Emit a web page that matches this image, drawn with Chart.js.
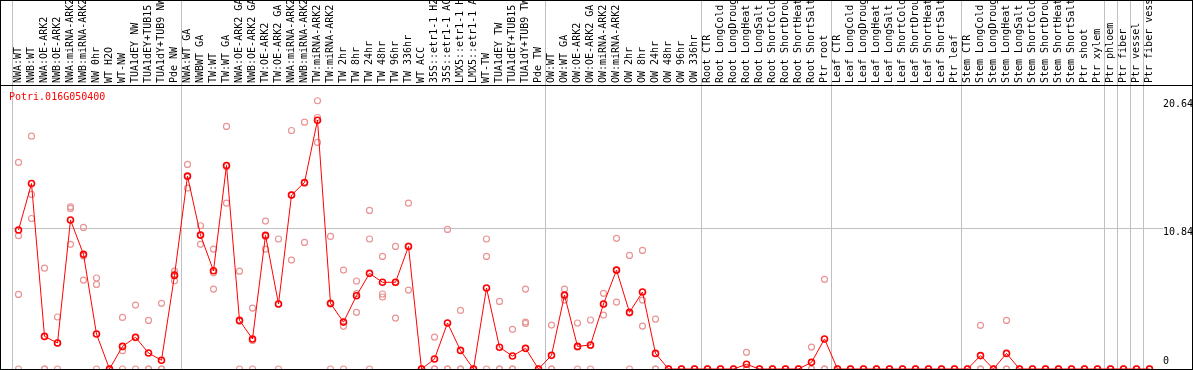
<!DOCTYPE html>
<html>
<head>
<meta charset="utf-8">
<title>Potri.016G050400</title>
<script src="https://cdn.jsdelivr.net/npm/chart.js@4/dist/chart.umd.min.js"></script>
<style>
  html, body { margin: 0; padding: 0; background: #fff; }
</style>
</head>
<body>
<canvas id="grafica" width="1194" height="370"></canvas>
<script>
// Muestras (eje X, etiquetas verticales arriba)
const muestras = [
    'NWA:WT', 'NWB:WT', 'NWA:OE-ARK2', 'NWB:OE-ARK2', 'NWA:miRNA-ARK2', 'NWB:miRNA-ARK2',
    'NW 0hr', 'WT H2O', 'WT-NW', 'TUA1dEY NW', 'TUA1dEY+TUB15', 'TUA1dY+TUB9 NW', 'Pde NW',
    'NWA:WT GA', 'NWBWT GA', 'TW:WT', 'TW:WT GA', 'NWA:OE-ARK2 GA', 'NWB:OE-ARK2 GA',
    'TW:OE-ARK2', 'TW:OE-ARK2 GA', 'NWA:miRNA-ARK2', 'NWB:miRNA-ARK2', 'TW:miRNA-ARK2',
    'TW:miRNA-ARK2', 'TW 2hr', 'TW 8hr', 'TW 24hr', 'TW 48hr', 'TW 96hr', 'TW 336hr',
    'WT ACC', '35S::etr1-1 H2O', '35S::etr1-1 ACC', 'LMX5::etr1-1 H2O', 'LMX5::etr1-1 ACC',
    'WT-TW', 'TUA1dEY TW', 'TUA1dEY+TUB15', 'TUA1dY+TUB9 TW', 'Pde TW',
    'OW:WT', 'OW:WT GA', 'OW:OE-ARK2', 'OW:OE-ARK2 GA', 'OW:miRNA-ARK2', 'OW:miRNA-ARK2',
    'OW 2hr', 'OW 8hr', 'OW 24hr', 'OW 48hr', 'OW 96hr', 'OW 336hr',
    'Root CTR', 'Root LongCold', 'Root LongDrought', 'Root LongHeat', 'Root LongSalt',
    'Root ShortCold', 'Root ShortDrought', 'Root ShortHeat', 'Root ShortSalt', 'Ptr root',
    'Leaf CTR', 'Leaf LongCold', 'Leaf LongDrought', 'Leaf LongHeat', 'Leaf LongSalt',
    'Leaf ShortCold', 'Leaf ShortDrought', 'Leaf ShortHeat', 'Leaf ShortSalt', 'Ptr leaf',
    'Stem CTR', 'Stem LongCold', 'Stem LongDrought', 'Stem LongHeat', 'Stem LongSalt',
    'Stem ShortCold', 'Stem ShortDrought', 'Stem ShortHeat', 'Stem ShortSalt', 'Ptr shoot',
    'Ptr xylem', 'Ptr phloem', 'Ptr fiber', 'Ptr vessel', 'Ptr fiber vessel'
];

// Promedio por muestra (línea roja)
const promedio = [
    10.69, 14.27, 2.51, 2.00, 11.46, 8.82, 2.69, 0, 1.74, 2.44, 1.23, 0.67, 7.20,
    14.84, 10.30, 7.56, 15.66, 3.74, 2.31, 10.28, 5.00, 13.38, 14.35, 19.14, 5.05,
    3.61, 5.64, 7.36, 6.67, 6.67, 9.43, 0, 0.77, 3.54, 1.43, 0, 6.23, 1.67, 1.00, 1.59, 0,
    1.05, 5.69, 1.74, 1.85, 5.00, 7.61, 4.36, 5.92, 1.20, 0, 0, 0,
    0, 0, 0, 0.36, 0, 0, 0, 0, 0.51, 2.31,
    0, 0, 0, 0, 0, 0, 0, 0, 0, 0,
    0, 1.03, 0, 1.20, 0, 0, 0, 0, 0, 0,
    0, 0, 0, 0, 0
];

// Réplicas (círculos rosas)
const replica1 = [
    15.89, 17.91, 7.76, 4.00, 12.48, 10.89, 7.00, 0, 3.97, 4.92, 3.74, 5.05, 7.53,
    15.74, 11.02, 9.23, 18.66, 7.53, 4.69, 11.38, 10.00, 18.35, 18.99, 20.64, 10.20,
    7.61, 6.77, 12.20, 8.66, 9.43, 12.76, 0, 2.46, 10.74, 4.51, 0, 10.00, 5.20, 3.05, 6.15, 0,
    3.38, 6.15, 3.54, 3.77, 5.82, 10.05, 8.74, 9.12, 3.84, 0, 0, 0,
    0, 0, 0, 1.28, 0, 0, 0, 0, 1.69, 6.90,
    0, 0, 0, 0, 0, 0, 0, 0, 0, 0,
    0, 3.36, 0, 3.74, 0, 0, 0, 0, 0, 0,
    0, 0, 0, 0, 0
];
const replica2 = [
    10.25, 13.43, 0, 2.00, 12.35, 8.70, 6.51, 0, 1.41, 2.40, 0, 0, 7.30,
    14.80, 10.30, 7.40, 15.56, 3.69, 2.20, 10.20, 5.00, 13.40, 14.30, 19.35, 5.00,
    3.28, 5.80, 10.00, 5.77, 6.66, 9.46, 0, 0, 0, 0, 0, 8.66, 0, 0, 3.61, 0,
    0, 5.60, 1.70, 1.80, 5.00, 7.60, 4.30, 5.30, 0, 0, 0, 0,
    0, 0, 0, 0, 0, 0, 0, 0, 0, 0,
    0, 0, 0, 0, 0, 0, 0, 0, 0, 0,
    0, 0, 0, 0, 0, 0, 0, 0, 0, 0,
    0, 0, 0, 0, 0
];
const replica3 = [
    5.74, 11.58, 0, 0, 9.59, 6.84, 0, 0, 0, 0, 0, 0, 6.79,
    13.92, 9.59, 6.15, 12.76, 0, 0, 9.23, 0, 8.38, 9.74, 17.43, 0,
    0, 4.36, 0, 5.54, 3.92, 6.07, 0, 0, 0, 0, 0, 0, 0, 0, 3.50, 0,
    0, 5.30, 0, 0, 4.15, 5.15, 0, 3.30, 0, 0, 0, 0,
    0, 0, 0, 0, 0, 0, 0, 0, 0, 0,
    0, 0, 0, 0, 0, 0, 0, 0, 0, 0,
    0, 0, 0, 0, 0, 0, 0, 0, 0, 0,
    0, 0, 0, 0, 0
];
// Réplica extra (solo una muestra tiene cuatro)
const replicaExtra = [{ x: 39, y: 0 }];

const ticksY = [0, 10.84, 20.64];
// Índices donde va una línea gris vertical (inicio de cada grupo)
const divisiones = [0, 13, 41, 53, 63, 73, 84, 85, 86, 87, 88];
const nombreGen = 'Potri.016G050400';

const fuente = { family: '"DejaVu Sans Mono", "Liberation Mono", monospace', size: 10 };
const gris = '#c0c0c0';
const rosa = '#e99595';

// Marco negro y nombre del gen
const marcoPlugin = {
    id: 'marco',
    afterDraw(chart) {
        const ctx = chart.ctx;
        ctx.save();
        ctx.strokeStyle = '#000';
        ctx.lineWidth = 1;
        ctx.strokeRect(0.5, 0.5, chart.width - 2, chart.height - 1);
        ctx.beginPath();
        ctx.moveTo(0, chart.chartArea.top + 0.5);
        ctx.lineTo(chart.width - 1, chart.chartArea.top + 0.5);
        ctx.stroke();
        ctx.fillStyle = '#ff0000';
        ctx.font = '10px ' + fuente.family;
        ctx.textBaseline = 'middle';
        ctx.fillText(nombreGen, 9, chart.chartArea.top + 12);
        ctx.restore();
    }
};

function serieReplica(datos) {
    return {
        data: datos,
        showLine: false,
        pointRadius: 3,
        pointBorderWidth: 1.2,
        pointBorderColor: rosa,
        pointBackgroundColor: 'rgba(0,0,0,0)',
        borderColor: rosa
    };
}

// Quitar el relleno que Chart.js agrega por las etiquetas de los extremos
function sinRelleno(scale) {
    scale.paddingTop = 0;
    scale.paddingBottom = 0;
    scale.paddingLeft = 0;
    scale.paddingRight = 0;
}

new Chart(document.getElementById('grafica'), {
    type: 'line',
    data: {
        labels: muestras,
        datasets: [
            {
                data: promedio,
                borderColor: '#ff0000',
                borderWidth: 1,
                pointRadius: 3,
                pointBorderWidth: 1.6,
                pointBorderColor: '#ff0000',
                pointBackgroundColor: 'rgba(0,0,0,0)',
                tension: 0
            },
            serieReplica(replica1),
            serieReplica(replica2),
            serieReplica(replica3),
            serieReplica(replicaExtra)
        ]
    },
    options: {
        responsive: false,
        animation: false,
        devicePixelRatio: 1,
        layout: { autoPadding: false, padding: { left: 12, right: 2, top: 0, bottom: 1 } },
        plugins: { legend: { display: false }, tooltip: { enabled: false } },
        scales: {
            x: {
                position: 'top',
                offset: true,
                afterFit: (scale) => { scale.height = 85; sinRelleno(scale); },
                border: { display: false },
                grid: {
                    offset: true,
                    tickLength: 85,
                    lineWidth: 1,
                    color: (ctx) => divisiones.includes(ctx.index) ? gris : 'rgba(0,0,0,0)'
                },
                ticks: {
                    autoSkip: false,
                    minRotation: 90,
                    maxRotation: 90,
                    padding: -83,
                    labelOffset: 12,
                    color: '#000',
                    font: fuente
                }
            },
            y: {
                position: 'right',
                min: 0,
                max: 21.85,
                afterFit: (scale) => { scale.width = 36; sinRelleno(scale); },
                afterBuildTicks: (scale) => { scale.ticks = ticksY.map(v => ({ value: v })); },
                border: { display: false },
                grid: {
                    tickLength: 7,
                    color: (ctx) => ctx.tick && ctx.tick.value === 10.84 ? gris : 'rgba(0,0,0,0)'
                },
                ticks: {
                    padding: 0,
                    labelOffset: 4,
                    color: '#000',
                    font: fuente,
                    callback: (v) => v === 0 ? ['0', '', ''] : v.toFixed(2)
                }
            }
        }
    },
    plugins: [marcoPlugin]
});
</script>
</body>
</html>
